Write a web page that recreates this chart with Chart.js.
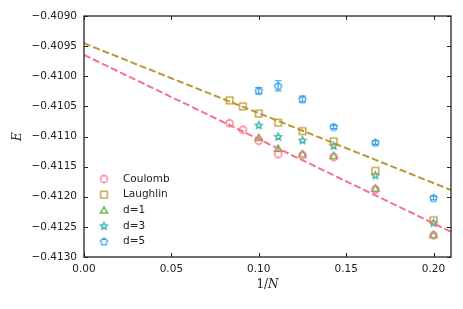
<!DOCTYPE html>
<html>
<head>
<meta charset="utf-8">
<script src="https://cdn.jsdelivr.net/npm/chart.js@4"></script>
<style>
  html, body { margin: 0; padding: 0; background: #fff; }
  canvas { display: block; }
</style>
</head>
<body>
<canvas id="myChart" width="463" height="309"></canvas>
<script>
'use strict';
// 1/N values (N = 12 ... 5)
let invN = [0.0833, 0.0909, 0.1, 0.1111, 0.125, 0.1429, 0.1667, 0.2];
let coulomb = [-0.41078, -0.41089, -0.41107, -0.41129, -0.41131, -0.41134, -0.41188, -0.41264];
let laughlin = [-0.41040, -0.41050, -0.41062, -0.41077, -0.41091, -0.41108, -0.41157, -0.41239];
let d1 = [null, null, -0.41102, -0.41120, -0.41129, -0.41132, -0.41186, -0.41263];
let d3 = [null, null, -0.41081, -0.41100, -0.41106, -0.41115, -0.41164, -0.41243];
let d5 = [null, null, -0.41024, -0.41016, -0.41038, -0.41084, -0.41110, -0.41202];
let d5Err = [0, 0, 0.00005, 0.000085, 0.00005, 0.00003, 0.00003, 0.00003];
// dashed extrapolation lines, at x = 0 and x = 0.21
let fitX = [0, 0.21];
let fitCoulomb = [-0.409646, -0.412582];
let fitLaughlin = [-0.409453, -0.411889];
// ticks
let xTicks = [0, 0.05, 0.10, 0.15, 0.20];
let yTicks = [-0.4130, -0.4125, -0.4120, -0.4115, -0.4110, -0.4105, -0.4100, -0.4095, -0.4090];

let colors = {
    coulomb: '#f77189',
    laughlin: '#bb9832',
    d1: '#50b131',
    d3: '#36ada4',
    d5: '#3ba3ec'
};

// hollow marker drawn on a little canvas, used as pointStyle
function marker(shape, color) {
    let c = document.createElement('canvas');
    c.width = 13;
    c.height = 13;
    let g = c.getContext('2d');
    g.strokeStyle = color;
    g.lineWidth = 1.3;
    let cx = 6.5, cy = 6.5;
    g.beginPath();
    if (shape === 'circle') {
        g.arc(cx, cy, 3.5, 0, Math.PI * 2);
    } else if (shape === 'square') {
        g.rect(cx - 3.3, cy - 3.3, 6.6, 6.6);
    } else if (shape === 'triangle') {
        for (let k = 0; k < 3; k++) {
            let a = -Math.PI / 2 + k * 2 * Math.PI / 3;
            let px = cx + 4.2 * Math.cos(a), py = cy + 0.8 + 4.2 * Math.sin(a);
            if (k === 0) g.moveTo(px, py); else g.lineTo(px, py);
        }
        g.closePath();
    } else if (shape === 'star') {
        for (let k = 0; k < 10; k++) {
            let a = -Math.PI / 2 + k * Math.PI / 5;
            let r = k % 2 === 0 ? 3.7 : 1.7;
            let px = cx + r * Math.cos(a), py = cy + 0.4 + r * Math.sin(a);
            if (k === 0) g.moveTo(px, py); else g.lineTo(px, py);
        }
        g.closePath();
    } else if (shape === 'pentagon') {
        for (let k = 0; k < 5; k++) {
            let a = -Math.PI / 2 + k * 2 * Math.PI / 5;
            let px = cx + 3.7 * Math.cos(a), py = cy + 0.3 + 3.7 * Math.sin(a);
            if (k === 0) g.moveTo(px, py); else g.lineTo(px, py);
        }
        g.closePath();
    }
    g.stroke();
    return c;
}

function points(xs, ys) {
    let out = [];
    for (let i = 0; i < xs.length; i++) {
        if (ys[i] !== null) out.push({ x: xs[i], y: ys[i] });
    }
    return out;
}

function markerSet(label, ys, shape, color) {
    return {
        label: label,
        data: points(invN, ys),
        pointStyle: marker(shape, color),
        pointRadius: 5,
        borderColor: color,
        backgroundColor: 'transparent',
        showLine: false,
        inLegend: true
    };
}

function lineSet(ys, color) {
    return {
        label: '',
        data: points(fitX, ys),
        showLine: true,
        pointRadius: 0,
        borderColor: color,
        borderWidth: 2,
        borderDash: [7, 3],
        fill: false,
        inLegend: false
    };
}

let tickFont = { family: 'DejaVu Sans', size: 10.5 };
let textColor = '#222';

// frame with inward ticks on all four sides
let framePlugin = {
    id: 'frame',
    afterDraw(chart) {
        let ctx = chart.ctx;
        let a = chart.chartArea;
        let xs = chart.scales.x, ys = chart.scales.y;
        ctx.save();
        ctx.strokeStyle = '#222';
        ctx.lineWidth = 1;
        ctx.beginPath();
        xTicks.forEach(function (v) {
            let px = Math.round(xs.getPixelForValue(v)) + 0.5;
            ctx.moveTo(px, a.bottom); ctx.lineTo(px, a.bottom - 4);
            ctx.moveTo(px, a.top); ctx.lineTo(px, a.top + 4);
        });
        yTicks.forEach(function (v) {
            let py = Math.round(ys.getPixelForValue(v)) + 0.5;
            ctx.moveTo(a.left, py); ctx.lineTo(a.left + 4, py);
            ctx.moveTo(a.right, py); ctx.lineTo(a.right - 4, py);
        });
        ctx.stroke();
        ctx.lineWidth = 1.3;
        ctx.strokeRect(a.left, a.top, a.right - a.left, a.bottom - a.top);

        // axis labels
        ctx.fillStyle = textColor;
        ctx.textBaseline = 'middle';
        ctx.font = '12px "DejaVu Serif"';
        let cx = (a.left + a.right) / 2;
        let w1 = ctx.measureText('1/').width;
        ctx.font = 'italic 12px "DejaVu Serif"';
        let w2 = ctx.measureText('N').width;
        let sx = cx - (w1 + w2) / 2;
        ctx.textAlign = 'left';
        ctx.font = '12px "DejaVu Serif"';
        ctx.fillText('1/', sx, 285);
        ctx.font = 'italic 12px "DejaVu Serif"';
        ctx.fillText('N', sx + w1, 285);

        ctx.translate(18, (a.top + a.bottom) / 2);
        ctx.rotate(-Math.PI / 2);
        ctx.textAlign = 'center';
        ctx.fillText('E', 0, 0);
        ctx.restore();
    }
};

// error bars for d=5
let errorPlugin = {
    id: 'errbars',
    afterDatasetsDraw(chart) {
        let ctx = chart.ctx;
        let xs = chart.scales.x, ys = chart.scales.y;
        ctx.save();
        ctx.strokeStyle = colors.d5;
        ctx.lineWidth = 1.2;
        ctx.beginPath();
        for (let i = 0; i < invN.length; i++) {
            if (d5[i] === null || !d5Err[i]) continue;
            let px = xs.getPixelForValue(invN[i]);
            let top = ys.getPixelForValue(d5[i] + d5Err[i]);
            let bot = ys.getPixelForValue(d5[i] - d5Err[i]);
            ctx.moveTo(px, top); ctx.lineTo(px, bot);
            ctx.moveTo(px - 3.5, top); ctx.lineTo(px + 3.5, top);
            ctx.moveTo(px - 3.5, bot); ctx.lineTo(px + 3.5, bot);
        }
        ctx.stroke();
        ctx.restore();
    }
};

// legend inside the lower-left corner, no frame
let legendPlugin = {
    id: 'innerLegend',
    afterDraw(chart) {
        let ctx = chart.ctx;
        let a = chart.chartArea;
        let row = 0;
        ctx.save();
        ctx.font = '10.5px "DejaVu Sans"';
        ctx.fillStyle = textColor;
        ctx.textBaseline = 'middle';
        ctx.textAlign = 'left';
        chart.data.datasets.forEach(function (ds) {
            if (!ds.inLegend) return;
            let y = a.bottom - 78 + row * 15.6;
            ctx.drawImage(ds.pointStyle, a.left + 20 - 6.5, y - 6.5);
            ctx.fillText(ds.label, a.left + 39, y);
            row++;
        });
        ctx.restore();
    }
};

let ctx = document.getElementById('myChart').getContext('2d');
// lines first so they are drawn on top of the markers
let myChart = new Chart(ctx, {
    type: 'scatter',
    data: {
        datasets: [
            lineSet(fitLaughlin, colors.laughlin),
            lineSet(fitCoulomb, colors.coulomb),
            markerSet('Coulomb', coulomb, 'circle', colors.coulomb),
            markerSet('Laughlin', laughlin, 'square', colors.laughlin),
            markerSet('d=1', d1, 'triangle', colors.d1),
            markerSet('d=3', d3, 'star', colors.d3),
            markerSet('d=5', d5, 'pentagon', colors.d5)
        ]
    },
    options: {
        responsive: false,
        animation: false,
        events: [],
        layout: { padding: { left: 0, top: 16, right: 12, bottom: 0 } },
        plugins: {
            legend: { display: false },
            tooltip: { enabled: false }
        },
        scales: {
            x: {
                type: 'linear',
                min: 0,
                max: 0.21,
                grid: { display: false, drawTicks: false },
                border: { display: false },
                afterFit(scale) { scale.height = 52; },
                afterBuildTicks(scale) { scale.ticks = xTicks.map(v => ({ value: v })); },
                ticks: {
                    padding: 6,
                    font: tickFont,
                    color: textColor,
                    maxRotation: 0,
                    autoSkip: false,
                    callback: v => v.toFixed(2)
                }
            },
            y: {
                type: 'linear',
                min: -0.4130,
                max: -0.4090,
                grid: { display: false, drawTicks: false },
                border: { display: false },
                afterFit(scale) { scale.width = 84; },
                afterBuildTicks(scale) { scale.ticks = yTicks.map(v => ({ value: v })); },
                ticks: {
                    padding: 7,
                    font: tickFont,
                    color: textColor,
                    autoSkip: false,
                    callback: v => v.toFixed(4).replace('-', '\u2212')
                }
            }
        }
    },
    plugins: [errorPlugin, framePlugin, legendPlugin]
});
</script>
</body>
</html>
